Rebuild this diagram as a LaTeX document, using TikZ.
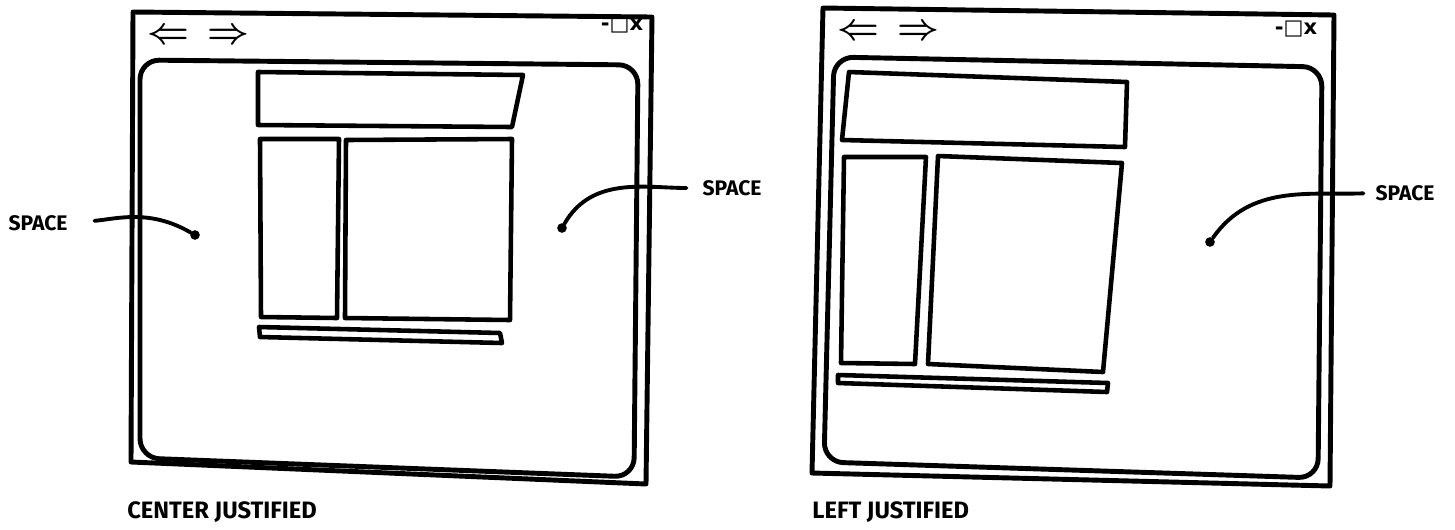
\documentclass[tikz,border=0pt]{standalone}
\usepackage{amssymb}
\usepackage{fontspec}
\setsansfont{Fira Sans}
\newfontfamily\glyphfont{DejaVu Sans}
\usetikzlibrary{
    positioning,
    calc
}
\tikzset{
  frame/.style   = {draw, line width=2.8pt, line join=round, line cap=round},
  content/.style = {frame, rounded corners=11pt},
  pane/.style    = {draw, line width=2.6pt, line join=round, line cap=round},
  lead/.style    = {line width=2.2pt, line cap=round},
  dot/.style     = {circle, fill, inner sep=0pt, minimum size=5.5pt}
}

\begin{document}
\begin{tikzpicture}[
  x=0.02cm, y=-0.02cm,
  node distance=0.35cm,
  note/.style={
    font=\sffamily\bfseries\fontsize{12}{14}\selectfont,
    inner sep=1pt
  },
  caption/.style={
    font=\sffamily\bfseries\fontsize{13.5}{16}\selectfont,
    inner sep=0pt, anchor=west
  },
  nav/.style={font=\huge\boldmath, inner sep=0pt},
  ctrl/.style={font=\glyphfont\bfseries\large, inner sep=0pt}
]
\useasboundingbox (0,0) rectangle (1455,529);

%% --- Left window: centre justified ---
\draw[frame] (133,12) -- (652,17) -- (646,484) -- (131,462) -- cycle;
\draw[content] (140,60) -- (638,65) -- (634,477) -- (140,458) -- cycle;

\node[nav] (backL) at (168,36) {$\Leftarrow$};
\node[nav, right=of backL] (fwdL) {$\Rightarrow$};
\node[ctrl] (ctrlL) at (622,25) {-□x};

\draw[pane] (258,72) -- (523,75) -- (512,127) -- (258,125) -- cycle;
\draw[pane] (260,139) -- (339,139) -- (337,318) -- (261,317) -- cycle;
\draw[pane] (346,140) -- (512,139) -- (510,320) -- (345,318) -- cycle;
\draw[pane] (259,327) -- (500,333) -- (502,343) -- (260,337) -- cycle;

%% --- Right window: left justified ---
\draw[frame] (823,8) -- (1334,15) -- (1330,486) -- (812,473) -- cycle;
\draw[content] (834,57) -- (1322,67) -- (1318,478) -- (824,462) -- cycle;

\node[nav] (backR) at (858,32) {$\Leftarrow$};
\node[nav, right=of backR] (fwdR) {$\Rightarrow$};
\node[ctrl] (ctrlR) at (1296,29) {-□x};

\draw[pane] (849,72) -- (1127,82) -- (1125,147) -- (842,140) -- cycle;
\draw[pane] (844,157) -- (926,157) -- (915,364) -- (841,363) -- cycle;
\draw[pane] (938,156) -- (1122,163) -- (1103,372) -- (928,364) -- cycle;
\draw[pane] (838,375) -- (1108,383) -- (1107,392) -- (838,383) -- cycle;

%% --- Space markers ---
\node[note] (spaceA) at (38,223) {SPACE};
\node[dot] (dotA) at (195,235) {};
\draw[lead, shorten <=0.5cm] (spaceA.east) to[out=5, in=150] (dotA);

\node[note] (spaceB) at (732,188) {SPACE};
\node[dot] (dotB) at (562,228) {};
\draw[lead, shorten <=0.28cm] (spaceB.west) to[out=180, in=60] (dotB);

\node[note] (spaceC) at (1405,193) {SPACE};
\node[dot] (dotC) at (1210,242) {};
\draw[lead, shorten <=0.2cm] (spaceC.west) to[out=182, in=55] (dotC);

%% --- Captions ---
\node[caption] (capL) at (127,512) {CENTER JUSTIFIED};
\node[caption] (capR) at (812,512) {LEFT JUSTIFIED};

\end{tikzpicture}
\end{document}
